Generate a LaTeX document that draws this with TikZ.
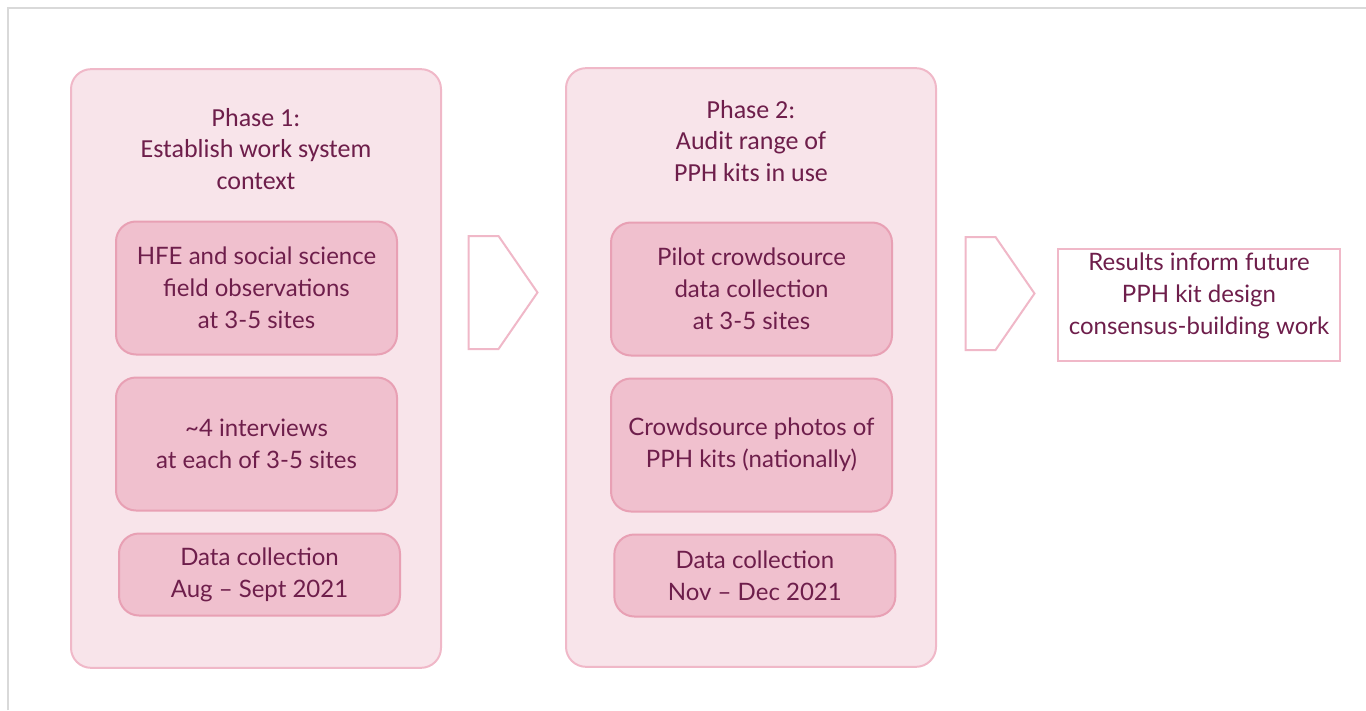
\documentclass[tikz,border=0pt]{standalone}
\usepackage{fontspec}
\setmainfont{Lato}
\newfontfamily\headfont{Carlito}
\usetikzlibrary{positioning, shapes.symbols}

\definecolor{plum}{RGB}{110,30,75}
\definecolor{panelfill}{RGB}{248,228,234}
\definecolor{paneldraw}{RGB}{240,184,200}
\definecolor{boxfill}{RGB}{240,192,206}
\definecolor{boxdraw}{RGB}{232,160,180}
\definecolor{framegray}{RGB}{217,217,217}

\begin{document}
\begin{tikzpicture}[
        x=0.75pt, y=-0.75pt,
        panel/.style={
            rectangle, draw=paneldraw, fill=panelfill, rounded corners=15pt,
            line width=1.5pt, minimum width=277.5pt, minimum height=449pt
        },
        phasehead/.style={
            align=center, text=plum, inner sep=0pt,
            font=\headfont\fontsize{19.5}{23.5}\selectfont
        },
        task/.style={
            rectangle, draw=boxdraw, fill=boxfill, rounded corners=15pt,
            line width=1.5pt, minimum width=210.75pt, minimum height=99.75pt,
            align=center, text=plum, font=\fontsize{18}{24}\selectfont
        },
        dates/.style={task, minimum height=61.5pt},
        chevron/.style={
            signal, signal to=east, signal pointer angle=110.8,
            draw=paneldraw, fill=white, line width=1.5pt, inner sep=0pt,
            minimum width=51.75pt, minimum height=84.75pt, anchor=west
        },
        result/.style={
            rectangle, draw=paneldraw, fill=white, line width=1.5pt,
            minimum width=211.5pt, minimum height=82.5pt,
            align=center, text=plum, font=\fontsize{18}{24}\selectfont
        }
    ]
        \useasboundingbox (0,0) rectangle (1366,710);

        % Frame
        \draw[framegray, line width=1.5pt] (8,710) -- (8,8) -- (1366,8);

        % Phase 1
        \node[panel] (ph1) at (256,368.5) {};
        \node[phasehead] (head1) at (256,149) {Phase 1:\\Establish work system\\context};
        \node[task] (obs) at (256.5,288) {HFE and social science\\field observations\\at 3-5 sites};
        \node[task, below=15.75pt of obs] (intv) {\textasciitilde4 interviews\\at each of 3-5 sites};
        \node[dates, below=15.75pt of intv, xshift=2.25pt] (date1) {Data collection\\Aug -- Sept 2021};

        % Phase 2
        \node[panel] (ph2) at (751,367.5) {};
        \node[phasehead] (head2) at (751,141) {Phase 2:\\Audit range of\\PPH kits in use};
        \node[task] (pilot) at (751.5,289) {Pilot crowdsource\\data collection\\at 3-5 sites};
        \node[task, below=15.75pt of pilot] (photo) {Crowdsource photos of\\PPH kits (nationally)};
        \node[dates, below=15.75pt of photo, xshift=2.5pt] (date2) {Data collection\\Nov -- Dec 2021};

        % Chevrons
        \node[chevron] (arr1) at (467.5,292.5) {};
        \node[chevron] (arr2) at (964.5,293.5) {};

        % Outcome
        \node[result] (res) at (1199,305) {Results inform future\\PPH kit design\\consensus-building work\\[-7.5pt]\mbox{}};

    \end{tikzpicture}
\end{document}
